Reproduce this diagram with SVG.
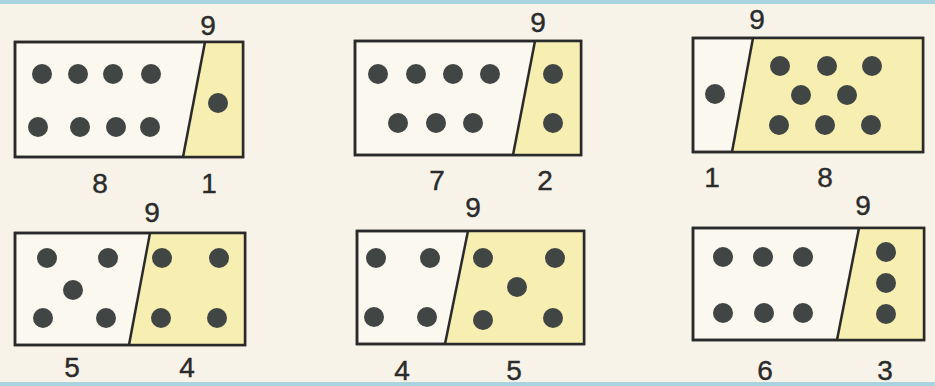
<svg xmlns="http://www.w3.org/2000/svg" width="935" height="386" viewBox="0 0 935 386">
<style>
.box{fill:#fbf8f0;stroke:#2a2a2a;stroke-width:2.5}
.yel{fill:#f7efb2;stroke:none}
.div{stroke:#2a2a2a;stroke-width:2.5;fill:none}
.dot{fill:#414543}
.num{font-family:"Liberation Sans",Arial,sans-serif;font-size:28px;fill:#2b2b2b;text-anchor:middle;stroke:#2b2b2b;stroke-width:0.4}
</style>
<rect x="0" y="0" width="935" height="386" fill="#f8f3e9"/>
<rect x="0" y="0" width="935" height="4" fill="#a9d3df"/>
<rect x="0" y="382" width="935" height="4" fill="#a9d3df"/>

<g id="domino1">
<rect class="box" x="15" y="42" width="228" height="115"/>
<polygon class="yel" points="205,42 243,42 243,157 183,157"/>
<line class="div" x1="205" y1="42" x2="183" y2="157"/>
<rect class="box" x="15" y="42" width="228" height="115" style="fill:none"/>
<circle class="dot" cx="42" cy="74" r="10"/><circle class="dot" cx="78" cy="74" r="10"/><circle class="dot" cx="113" cy="74" r="10"/><circle class="dot" cx="151" cy="74" r="10"/>
<circle class="dot" cx="38" cy="127" r="10"/><circle class="dot" cx="80" cy="127" r="10"/><circle class="dot" cx="116" cy="127" r="10"/><circle class="dot" cx="150" cy="127" r="10"/>
<circle class="dot" cx="218" cy="103" r="10"/>
<text class="num" x="208" y="35">9</text>
<text class="num" x="100" y="193">8</text>
<text class="num" x="209" y="193">1</text>
</g>

<g id="domino2">
<rect class="box" x="355" y="41" width="226" height="114"/>
<polygon class="yel" points="535,41 581,41 581,155 513,155"/>
<line class="div" x1="535" y1="41" x2="513" y2="155"/>
<rect class="box" x="355" y="41" width="226" height="114" style="fill:none"/>
<circle class="dot" cx="378" cy="74" r="10"/><circle class="dot" cx="416" cy="74" r="10"/><circle class="dot" cx="453" cy="74" r="10"/><circle class="dot" cx="490" cy="74" r="10"/>
<circle class="dot" cx="398" cy="123" r="10"/><circle class="dot" cx="436" cy="123" r="10"/><circle class="dot" cx="473" cy="123" r="10"/>
<circle class="dot" cx="553" cy="74" r="10"/><circle class="dot" cx="553" cy="123" r="10"/>
<text class="num" x="538" y="32">9</text>
<text class="num" x="437" y="190">7</text>
<text class="num" x="545" y="190">2</text>
</g>

<g id="domino3">
<rect class="box" x="693" y="38" width="230" height="114"/>
<polygon class="yel" points="753,38 923,38 923,152 732,152"/>
<line class="div" x1="753" y1="38" x2="732" y2="152"/>
<rect class="box" x="693" y="38" width="230" height="114" style="fill:none"/>
<circle class="dot" cx="715" cy="94" r="10"/>
<circle class="dot" cx="780" cy="66" r="10"/><circle class="dot" cx="827" cy="66" r="10"/><circle class="dot" cx="872" cy="66" r="10"/>
<circle class="dot" cx="801" cy="95" r="10"/><circle class="dot" cx="847" cy="95" r="10"/>
<circle class="dot" cx="779" cy="125" r="10"/><circle class="dot" cx="825" cy="125" r="10"/><circle class="dot" cx="871" cy="125" r="10"/>
<text class="num" x="757" y="29">9</text>
<text class="num" x="712" y="187">1</text>
<text class="num" x="825" y="187">8</text>
</g>

<g id="domino4">
<rect class="box" x="15" y="233" width="230" height="112"/>
<polygon class="yel" points="150,233 245,233 245,345 129,345"/>
<line class="div" x1="150" y1="233" x2="129" y2="345"/>
<rect class="box" x="15" y="233" width="230" height="112" style="fill:none"/>
<circle class="dot" cx="47" cy="258" r="10"/><circle class="dot" cx="108" cy="258" r="10"/><circle class="dot" cx="73" cy="290" r="10"/><circle class="dot" cx="43" cy="318" r="10"/><circle class="dot" cx="106" cy="318" r="10"/>
<circle class="dot" cx="162" cy="258" r="10"/><circle class="dot" cx="219" cy="258" r="10"/><circle class="dot" cx="161" cy="318" r="10"/><circle class="dot" cx="217" cy="318" r="10"/>
<text class="num" x="152" y="222">9</text>
<text class="num" x="72" y="377">5</text>
<text class="num" x="187" y="377">4</text>
</g>

<g id="domino5">
<rect class="box" x="357" y="231" width="227" height="113"/>
<polygon class="yel" points="468,231 584,231 584,344 445,344"/>
<line class="div" x1="468" y1="231" x2="445" y2="344"/>
<rect class="box" x="357" y="231" width="227" height="113" style="fill:none"/>
<circle class="dot" cx="376" cy="258" r="10"/><circle class="dot" cx="430" cy="258" r="10"/><circle class="dot" cx="374" cy="317" r="10"/><circle class="dot" cx="427" cy="317" r="10"/>
<circle class="dot" cx="483" cy="258" r="10"/><circle class="dot" cx="555" cy="258" r="10"/><circle class="dot" cx="517" cy="287" r="10"/><circle class="dot" cx="483" cy="320" r="10"/><circle class="dot" cx="553" cy="318" r="10"/>
<text class="num" x="473" y="217">9</text>
<text class="num" x="402" y="380">4</text>
<text class="num" x="514" y="380">5</text>
</g>

<g id="domino6">
<rect class="box" x="693" y="228" width="231" height="112"/>
<polygon class="yel" points="859,228 924,228 924,340 837,340"/>
<line class="div" x1="859" y1="228" x2="837" y2="340"/>
<rect class="box" x="693" y="228" width="231" height="112" style="fill:none"/>
<circle class="dot" cx="723" cy="257" r="10"/><circle class="dot" cx="763" cy="257" r="10"/><circle class="dot" cx="803" cy="257" r="10"/>
<circle class="dot" cx="723" cy="313" r="10"/><circle class="dot" cx="764" cy="313" r="10"/><circle class="dot" cx="803" cy="313" r="10"/>
<circle class="dot" cx="886" cy="252" r="10"/><circle class="dot" cx="886" cy="283" r="10"/><circle class="dot" cx="886" cy="314" r="10"/>
<text class="num" x="863" y="215">9</text>
<text class="num" x="765" y="380">6</text>
<text class="num" x="885" y="380">3</text>
</g>
</svg>
